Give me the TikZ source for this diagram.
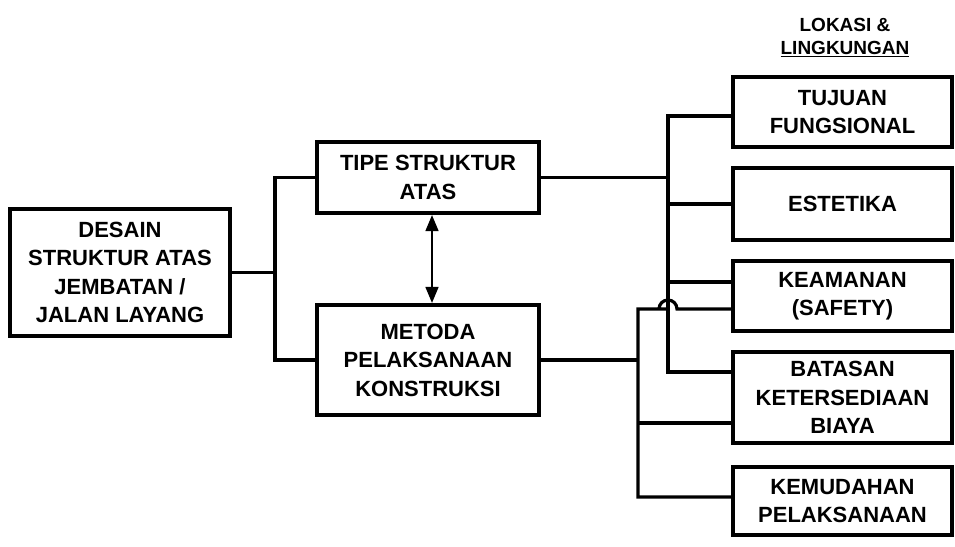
\documentclass[tikz,border=0pt]{standalone}
\usepackage{fontspec}
\setmainfont{Liberation Sans}
\usetikzlibrary{arrows.meta}
\begin{document}
\begin{tikzpicture}[x=1pt,y=1pt,
  box/.style={draw=black, line width=4.2pt, fill=white, inner sep=0pt,
    align=center, font=\fontsize{22}{28.5}\selectfont\bfseries},
  conn/.style={draw=black, line width=3.2pt, line join=miter},
  note/.style={inner sep=0pt, align=center, font=\fontsize{19}{24}\selectfont\bfseries}]
\useasboundingbox (0,0) rectangle (955,-546);
% boxes
\node[box, minimum width=220pt, minimum height=127pt] (desain) at (120,-272.5)
  {DESAIN\\STRUKTUR ATAS\\JEMBATAN /\\JALAN LAYANG};
\node[box, minimum width=222pt, minimum height=71pt] (tipe) at (428,-177.5)
  {TIPE STRUKTUR\\ATAS};
\node[box, minimum width=222pt, minimum height=110pt] (metoda) at (428,-360)
  {METODA\\PELAKSANAAN\\KONSTRUKSI};
\node[box, minimum width=219pt, minimum height=70pt] (tujuan) at (842.5,-112)
  {TUJUAN\\FUNGSIONAL};
\node[box, minimum width=219pt, minimum height=72pt] (estetika) at (842.5,-204)
  {ESTETIKA};
\node[box, minimum width=219pt, minimum height=70pt] (keamanan) at (842.5,-296)
  {KEAMANAN\\(SAFETY)};
\node[box, minimum width=219pt, minimum height=91pt] (batasan) at (842.5,-397.5)
  {BATASAN\\KETERSEDIAAN\\BIAYA};
\node[box, minimum width=219pt, minimum height=68pt] (kemudahan) at (842.5,-501)
  {KEMUDAHAN\\PELAKSANAAN};
\node[note] (lokasi) at (845,-25) {LOKASI \&};
\node[note] (lingkungan) at (845,-49) {\underline{LINGKUNGAN}};
% junction coordinates
\coordinate (j1) at (275,-272.5);
\coordinate (j2) at (668,-177.5);
\coordinate (j3) at (638,-360);
% left tree
\draw[conn] (desain.east) -- (j1);
\draw[conn] (tipe.west) -| (j1) |- (metoda.west);
% double arrow
\draw[line width=1.6pt, {Triangle[length=16pt,width=13pt]}-{Triangle[length=16pt,width=13pt]}]
  ([xshift=4pt]tipe.south) -- ([xshift=4pt]metoda.north);
% right tree from TIPE
\draw[conn] (tipe.east) -- (j2);
\draw[conn] ([yshift=-4pt]tujuan.west) -| (j2) |- ([yshift=25.5pt]batasan.west);
\draw[conn] (j2 |- estetika.west) -- (estetika.west);
\draw[conn] (j2 |- keamanan.west) ++(0,14) -- ([yshift=14pt]keamanan.west);
% right tree from METODA
\draw[conn] (metoda.east) -- (j3);
\draw[conn] ([yshift=4pt]kemudahan.west) -| (j3) |- ([yshift=-13pt]keamanan.west -| j2)
  ++(-9,0) arc (180:0:9) -- ([yshift=-13pt]keamanan.west);
\draw[conn] (j3 |- batasan.west) ++(0,-25.5) -- ([yshift=-25.5pt]batasan.west);
\end{tikzpicture}
\end{document}
